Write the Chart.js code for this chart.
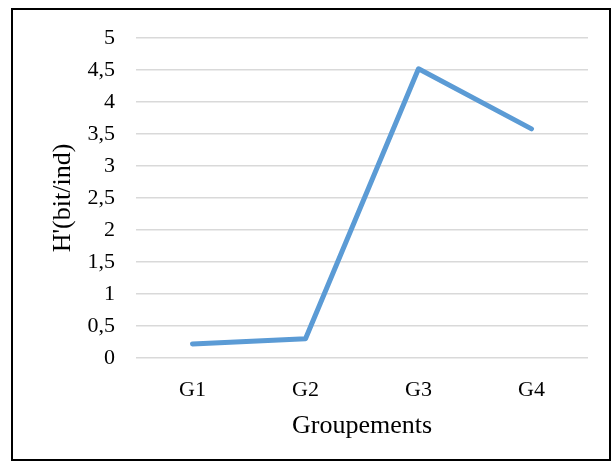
<!DOCTYPE html>
<html>
<head>
<meta charset="utf-8">
<script src="https://cdn.jsdelivr.net/npm/chart.js@4/dist/chart.umd.min.js"></script>
<style>
  html, body { margin: 0; padding: 0; background: #fff; }
  #wrap { width: 613px; height: 462px; position: relative; }
</style>
</head>
<body>
<div id="wrap"><canvas id="c" width="613" height="462"></canvas></div>
<script>
const categories = ['G1', 'G2', 'G3', 'G4'];
const diversity = [0.22, 0.30, 4.52, 3.58];
const yTicks = [0, 0.5, 1, 1.5, 2, 2.5, 3, 3.5, 4, 4.5, 5];

const serif = "'Liberation Serif', 'Times New Roman', serif";

// black frame around the whole figure
const frame = {
  id: 'frame',
  afterDraw(chart) {
    const ctx = chart.ctx;
    ctx.save();
    ctx.strokeStyle = '#000';
    ctx.lineWidth = 2;
    ctx.strokeRect(12, 9, 598, 451);
    ctx.restore();
  }
};

new Chart(document.getElementById('c'), {
  type: 'line',
  data: {
    labels: categories,
    datasets: [{
      data: diversity,
      borderColor: '#5B9BD5',
      borderWidth: 5,
      borderCapStyle: 'round',
      borderJoinStyle: 'round',
      pointRadius: 0,
      pointHoverRadius: 0,
      tension: 0,
      fill: false
    }]
  },
  options: {
    responsive: false,
    animation: false,
    events: [],
    layout: { padding: { left: 48, right: 25, top: 38, bottom: 20 } },
    plugins: { legend: { display: false }, tooltip: { enabled: false } },
    scales: {
      x: {
        offset: true,
        grid: { display: false, drawTicks: false },
        border: { display: false },
        ticks: { color: '#000', font: { family: serif, size: 22 }, padding: 19 },
        title: {
          display: true,
          text: 'Groupements',
          color: '#000',
          font: { family: serif, size: 26 },
          padding: 0
        },
        afterFit(s) { s.height = 84; }
      },
      y: {
        min: 0,
        max: 5,
        afterBuildTicks(s) { s.ticks = yTicks.map(v => ({ value: v })); },
        grid: { color: '#d9d9d9', lineWidth: 1.5, drawTicks: false },
        border: { display: false },
        ticks: {
          color: '#000',
          font: { family: serif, size: 22 },
          padding: 21,
          callback: v => String(v).replace('.', ',')
        },
        title: {
          display: true,
          text: "H'(bit/ind)",
          color: '#000',
          font: { family: serif, size: 26 },
          padding: 0
        },
        afterFit(s) { s.width = 88; }
      }
    }
  },
  plugins: [frame]
});
</script>
</body>
</html>
